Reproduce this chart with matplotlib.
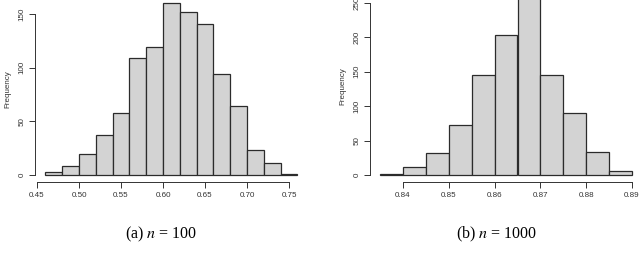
import numpy as np
import matplotlib
matplotlib.use("Agg")
import matplotlib.pyplot as plt

plt.rcParams['font.family'] = ['Liberation Sans', 'DejaVu Sans']
plt.rcParams['mathtext.fontset'] = 'stix'

# histogram (a): n = 100
edges_a = [0.46, 0.48, 0.50, 0.52, 0.54, 0.56, 0.58, 0.60, 0.62, 0.64,
           0.66, 0.68, 0.70, 0.72, 0.74, 0.76]
counts_a = [3, 8, 20, 37, 58, 109, 119, 160, 152, 141, 94, 64, 23, 11, 1]
xticks_a = [0.45, 0.50, 0.55, 0.60, 0.65, 0.70, 0.75]
yticks_a = [0, 50, 100, 150]

# histogram (b): n = 1000
edges_b = [0.835, 0.840, 0.845, 0.850, 0.855, 0.860, 0.865, 0.870,
           0.875, 0.880, 0.885, 0.890]
counts_b = [2, 11, 32, 72, 146, 204, 258, 146, 90, 34, 6]
xticks_b = [0.84, 0.85, 0.86, 0.87, 0.88, 0.89]
yticks_b = [0, 50, 100, 150, 200, 250]

captions = ["(a) $n$ = 100", "(b) $n$ = 1000"]

W, H = 640, 258
fig = plt.figure(figsize=(W / 100, H / 100), dpi=100)


def r_hist(edges, counts, xticks, yticks, px_x, px_y, caption, cap_x):
    # px_x: pixel x of first/last x tick, px_y: pixel y of 0 and last y tick
    edges = np.array(edges)
    counts = np.array(counts)
    lo, hi = edges[0], edges[-1]
    pad = 0.04 * (hi - lo)
    xlim = (lo - pad, hi + pad)
    ylim = (-0.04 * counts.max(), 1.04 * counts.max())
    sx = (px_x[1] - px_x[0]) / (xticks[-1] - xticks[0])
    sy = (px_y[0] - px_y[1]) / (yticks[-1] - yticks[0])
    left = px_x[0] - (xticks[0] - xlim[0]) * sx
    right = px_x[1] + (xlim[1] - xticks[-1]) * sx
    bottom = px_y[0] + (0 - ylim[0]) * sy
    top = px_y[0] - (ylim[1] - 0) * sy
    ax = fig.add_axes([left / W, 1 - bottom / H, (right - left) / W, (bottom - top) / H])
    ax.bar(edges[:-1], counts, width=np.diff(edges), align='edge',
           color='#d3d3d3', edgecolor='#2b2b2b', linewidth=0.9, clip_on=False)
    ax.set_xlim(*xlim)
    ax.set_ylim(*ylim)
    for s in ['top', 'right']:
        ax.spines[s].set_visible(False)
    ax.spines['bottom'].set_bounds(xticks[0], xticks[-1])
    ax.spines['left'].set_bounds(yticks[0], yticks[-1])
    for s in ['bottom', 'left']:
        ax.spines[s].set_linewidth(0.7)
        ax.spines[s].set_color('#333333')
    ax.set_xticks(xticks)
    ax.set_xticklabels(["%.2f" % t for t in xticks])
    ax.set_yticks(yticks)
    ax.set_yticklabels([str(t) for t in yticks], rotation=90, va='center')
    ax.tick_params(length=4, width=0.7, color='#333333', labelsize=5.8,
                   labelcolor='#333333', pad=3)
    ax.set_ylabel("Frequency", fontsize=5.8, color='#333333', labelpad=5)
    ax.patch.set_visible(False)
    fig.text(cap_x / W, 1 - 234 / H, caption, ha='center', va='center',
             fontsize=11.5, family='Liberation Serif')
    return ax


r_hist(edges_a, counts_a, xticks_a, yticks_a, (37, 289), (175, 14), captions[0], 161)
r_hist(edges_b, counts_b, xticks_b, yticks_b, (403, 632), (175, 3), captions[1], 497)

fig.savefig("out.png", dpi=100)
